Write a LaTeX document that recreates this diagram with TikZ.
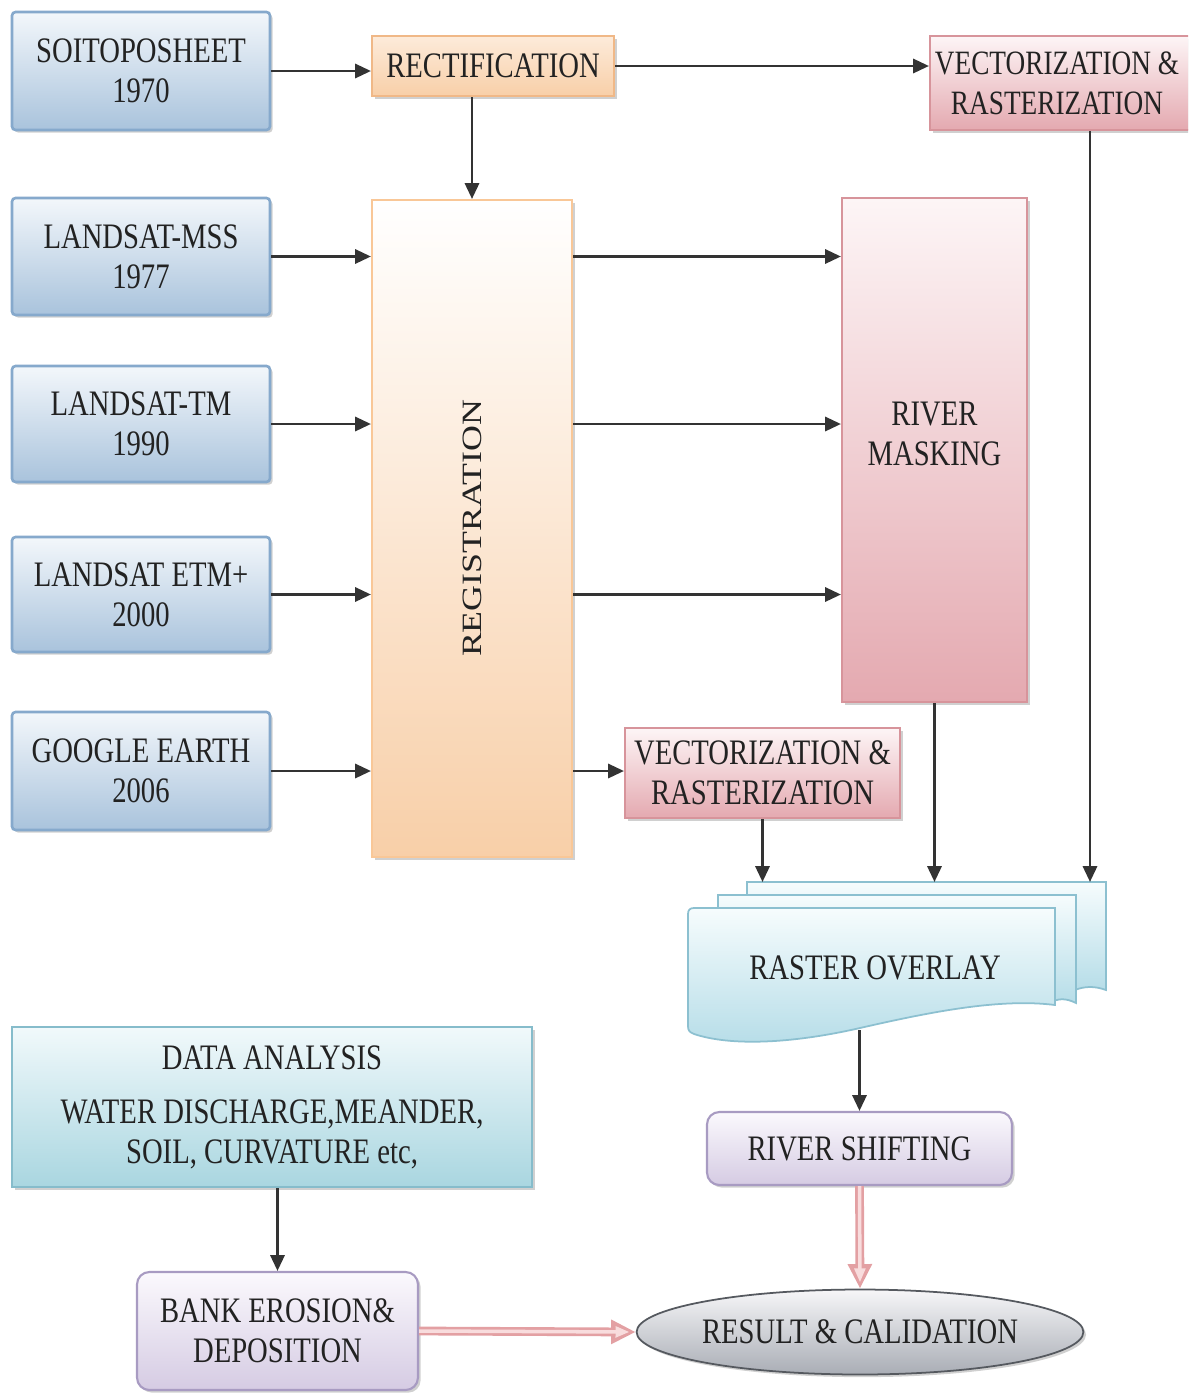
\documentclass[tikz,border=0pt]{standalone}
\usepackage{fontspec}
\setmainfont{Liberation Serif}[FakeStretch=0.8]
\newfontfamily\regfont{Liberation Serif}
\usepackage{graphicx}
\usetikzlibrary{arrows.meta,shapes.geometric,shadows,calc}
\definecolor{txt}{HTML}{222222}
\definecolor{arrc}{HTML}{333333}
\definecolor{blueT}{HTML}{F3F7FB}\definecolor{blueB}{HTML}{A9C3DC}\definecolor{blueD}{HTML}{86A9CC}
\definecolor{peachT}{HTML}{FDEBDA}\definecolor{peachB}{HTML}{F8CFA8}\definecolor{peachD}{HTML}{F0B887}
\definecolor{pinkT}{HTML}{FDF5F6}\definecolor{pinkB}{HTML}{E4A9B0}\definecolor{pinkD}{HTML}{D7949B}
\definecolor{cyanT}{HTML}{F6FCFD}\definecolor{cyanB}{HTML}{B6DDE8}\definecolor{cyanD}{HTML}{8CC0D0}
\definecolor{tealT}{HTML}{F1F9FB}\definecolor{tealB}{HTML}{A9D6E0}\definecolor{tealD}{HTML}{86BCCB}
\definecolor{lavT}{HTML}{FBF9FD}\definecolor{lavB}{HTML}{D5CBE3}\definecolor{lavD}{HTML}{A89BC2}
\definecolor{grayT}{HTML}{F6F6F8}\definecolor{grayB}{HTML}{A9ADB5}\definecolor{grayD}{HTML}{55595F}
\definecolor{parrD}{HTML}{E3A0A3}\definecolor{parrL}{HTML}{F8DCDD}
\begin{document}
\begin{tikzpicture}[x=0.02cm,y=-0.02cm,
  every node/.style={font=\fontsize{20.4pt}{22.7pt}\selectfont, text=txt, align=center, inner sep=2pt},
  shad/.style={drop shadow={shadow xshift=1.5pt,shadow yshift=-1.5pt,opacity=0.3,fill=black!60}},
  bluebox/.style={shad, top color=blueT, bottom color=blueB, draw=blueD, line width=1.5pt, rounded corners=2pt},
  rectbox/.style={shad, top color=peachT, bottom color=peachB, draw=peachD, line width=1.2pt},
  regbox/.style={shad, top color=white, bottom color=peachB, draw=peachB!90!orange, line width=1.2pt},
  pinkbox/.style={shad, top color=pinkT, bottom color=pinkB, draw=pinkD, line width=1.2pt},
  tealbox/.style={shad, top color=tealT, bottom color=tealB, draw=tealD, line width=1.2pt},
  lavbox/.style={shad, top color=lavT, bottom color=lavB, draw=lavD, line width=1.2pt, rounded corners=7pt},
  resell/.style={shad, ellipse, top color=grayT, bottom color=grayB, draw=grayD, line width=1pt, inner sep=0pt},
  sheet/.style={top color=cyanT, bottom color=cyanB, draw=cyanD, line width=1pt},
  arr/.style={draw=arrc, line width=1.6pt, -{Triangle[length=9pt,width=8pt]}},
  parrO/.style={draw=parrD, line width=5pt, -{Triangle[length=14pt,width=13pt]}},
  parrI/.style={draw=parrL, line width=2pt, shorten >=3.5pt, -{Triangle[length=8pt,width=6pt]}}
]
\useasboundingbox (0,0) rectangle (1188,1397);
\fill[white] (0,0) rectangle (1188,1397);
\clip (0,0) rectangle (1188,1397);

% left source boxes
\node[bluebox, minimum width=5.16cm, minimum height=2.36cm] (soito) at (141,71) {SOITOPOSHEET\\1970};
\node[bluebox, minimum width=5.16cm, minimum height=2.34cm] (mss) at (141,256.5) {LANDSAT-MSS\\1977};
\node[bluebox, minimum width=5.16cm, minimum height=2.32cm] (tm) at (141,424) {LANDSAT-TM\\1990};
\node[bluebox, minimum width=5.16cm, minimum height=2.30cm] (etm) at (141,594.5) {LANDSAT ETM+\\2000};
\node[bluebox, minimum width=5.16cm, minimum height=2.36cm] (ge) at (141,771) {GOOGLE EARTH\\2006};

% processing boxes
\node[rectbox, minimum width=4.84cm, minimum height=1.2cm] (rect) at (493,66) {RECTIFICATION};
\node[pinkbox, minimum width=5.4cm, minimum height=1.88cm] (vt) at (1065,83) {};
\node[font=\fontsize{19.4pt}{22.7pt}\selectfont] (vttxt) at (1057,83) {VECTORIZATION \&\\RASTERIZATION};
\node[regbox, minimum width=4.0cm, minimum height=13.14cm] (reg) at (472,528.5) {};
\node[rotate=90] (regtxt) at (reg.center) {\regfont\scalebox{1}[0.78]{REGISTRATION}};
\node[pinkbox, minimum width=3.7cm, minimum height=10.08cm] (rm) at (934.5,450) {};
\node (rmtxt) at (934.5,434) {RIVER\\MASKING};
\node[pinkbox, minimum width=5.5cm, minimum height=1.8cm] (vb) at (762.5,773) {VECTORIZATION \&\\RASTERIZATION};

% raster overlay stack
\path[sheet] (747,882) -- (1106,882) -- (1106,990) .. controls (1095,986) and (1085,986) .. (1075,990) -- (747,990) -- cycle;
\path[sheet] (718,895) -- (1076,895) -- (1076,1003) .. controls (1066,998) and (1058,998) .. (1050,1003) -- (718,1003) -- cycle;
\path[sheet] (694,908) -- (1055,908) -- (1055,1005)
   .. controls (1000,998) and (930,1012) .. (860,1028)
   .. controls (790,1044) and (730,1046) .. (694,1034)
   .. controls (689,1032) and (688,1030) .. (688,1026) -- (688,914) .. controls (688,910) and (690,908) .. (694,908) -- cycle;
\node (ro) at (875,968) {RASTER OVERLAY};
\coordinate (rotop) at (900,882);
\coordinate (robot) at (858,1030);

\node[lavbox, minimum width=6.1cm, minimum height=1.46cm] (rs) at (859.5,1148.5) {RIVER SHIFTING};
\node[resell, minimum width=8.2cm, minimum height=1.7cm] (res) at (860,1332) {RESULT \& CALIDATION};
\node[tealbox, minimum width=10.4cm, minimum height=3.2cm] (da) at (272,1107) {DATA ANALYSIS\\[8pt]WATER DISCHARGE,MEANDER,\\SOIL, CURVATURE etc,};
\node[lavbox, minimum width=5.62cm, minimum height=2.36cm] (bk) at (277.5,1331) {BANK EROSION\&\\DEPOSITION};

% connectors
\draw[arr] (soito.east) -- (soito.east -| rect.west);
\draw[arr] (rect.east) -- (rect.east -| vt.west);
\draw[arr] (reg.north |- rect.south) -- (reg.north);
\draw[arr] (mss.east) -- (mss.east -| reg.west);
\draw[arr] (tm.east) -- (tm.east -| reg.west);
\draw[arr] (etm.east) -- (etm.east -| reg.west);
\draw[arr] (ge.east) -- (ge.east -| reg.west);
\draw[arr] (mss.east -| reg.east) -- (mss.east -| rm.west);
\draw[arr] (tm.east -| reg.east) -- (tm.east -| rm.west);
\draw[arr] (etm.east -| reg.east) -- (etm.east -| rm.west);
\draw[arr] (ge.east -| reg.east) -- (ge.east -| vb.west);
\draw[arr] ([xshift=0.5cm]vt.south) -- ([xshift=0.5cm]vt.south |- rotop);
\draw[arr] (rm.south) -- (rm.south |- rotop);
\draw[arr] (vb.south) -- (vb.south |- rotop);
\draw[arr] (rs.north |- robot) -- (rs.north);
\draw[arr] (da.south -| bk.north) -- (bk.north);

% pink hollow arrows
\draw[parrO] (rs.south) -- (res.north);
\draw[parrI] (rs.south) -- (res.north);
\draw[parrO] (bk.east) -- (res.west);
\draw[parrI] (bk.east) -- (res.west);
\end{tikzpicture}
\end{document}
